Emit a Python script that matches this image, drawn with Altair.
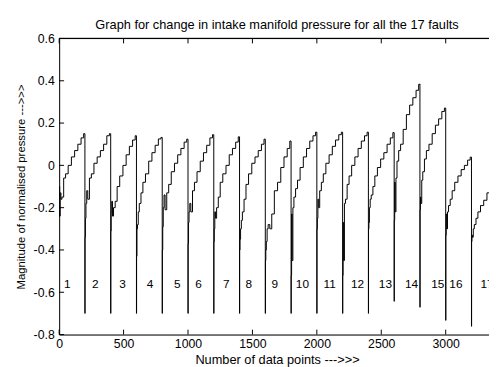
import altair as alt
import pandas as pd

# ---- data ----
SEG_LEN = 200
OFFSETS = [0, 1, 4, 8, 14, 22, 35, 50, 70, 95, 120, 145, 170, 190, 199]

seg1 = [-0.24, -0.10, -0.24, -0.13, -0.16, -0.15, -0.06, -0.04, 0.00, 0.04, 0.07, 0.10, 0.13, 0.15, 0.15]
seg2 = [-0.70, -0.34, -0.25, -0.18, -0.12, -0.16, -0.06, -0.04, 0.01, 0.04, 0.07, 0.10, 0.14, 0.15, 0.15]
seg3 = [-0.70, -0.31, -0.22, -0.17, -0.24, -0.20, -0.17, -0.10, -0.05, 0.00, 0.05, 0.09, 0.12, 0.14, 0.14]
seg4 = [-0.70, -0.43, -0.30, -0.28, -0.22, -0.18, -0.13, -0.08, -0.04, 0.02, 0.06, 0.095, 0.125, 0.132, 0.132]
seg5 = [-0.70, -0.40, -0.29, -0.20, -0.14, -0.21, -0.13, -0.09, -0.03, 0.01, 0.05, 0.08, 0.11, 0.124, 0.124]
seg6 = [-0.70, -0.37, -0.27, -0.22, -0.18, -0.22, -0.12, -0.08, -0.03, 0.02, 0.06, 0.095, 0.13, 0.145, 0.145]
seg7 = [-0.70, -0.36, -0.30, -0.22, -0.25, -0.20, -0.15, -0.08, -0.04, 0.00, 0.05, 0.08, 0.11, 0.135, 0.135]
seg8 = [-0.70, -0.40, -0.35, -0.30, -0.26, -0.22, -0.16, -0.09, -0.04, 0.01, 0.04, 0.07, 0.10, 0.124, 0.124]
seg9 = [-0.70, -0.45, -0.40, -0.36, -0.30, -0.28, -0.30, -0.23, -0.12, -0.08, -0.01, 0.04, 0.08, 0.115, 0.115]
seg10 = [-0.70, -0.52, -0.23, -0.45, -0.20, -0.15, -0.11, -0.07, -0.01, 0.04, 0.08, 0.115, 0.14, 0.157, 0.157]
seg11 = [-0.70, -0.30, -0.25, -0.16, -0.20, -0.12, -0.08, -0.04, 0.01, 0.05, 0.09, 0.12, 0.145, 0.157, 0.157]
seg12 = [-0.70, -0.52, -0.27, -0.45, -0.18, -0.16, -0.09, -0.05, 0.00, 0.04, 0.08, 0.115, 0.14, 0.157, 0.157]
seg13 = [-0.70, -0.30, -0.27, -0.20, -0.16, -0.14, -0.10, -0.05, -0.01, 0.03, 0.06, 0.10, 0.13, 0.155, 0.155]
seg14 = [-0.643, -0.26, -0.08, -0.22, -0.06, 0.02, 0.07, 0.10, 0.17, 0.24, 0.285, 0.32, 0.355, 0.383, 0.385]
seg15 = [-0.671, -0.21, -0.15, -0.18, -0.07, -0.03, 0.03, 0.07, 0.10, 0.15, 0.19, 0.22, 0.255, 0.271, 0.271]
seg16 = [-0.733, -0.33, -0.23, -0.30, -0.22, -0.19, -0.16, -0.12, -0.08, -0.05, -0.02, 0.00, 0.025, 0.039, 0.039]
seg17 = [-0.761, -0.36, -0.33, -0.34, -0.30, -0.28, -0.25, -0.22, -0.19, -0.165, -0.13, -0.10, -0.07, -0.05, -0.04]

fault_labels = [str(i) for i in range(1, 18)]
label_x = [64, 280, 491, 705, 916, 1082, 1298, 1471, 1674, 1888, 2099, 2315, 2532, 2735, 2939, 3079, 3321]
label_y = -0.56

x_ticks = [0, 500, 1000, 1500, 2000, 2500, 3000]
y_ticks = [-0.8, -0.6, -0.4, -0.2, 0, 0.2, 0.4, 0.6]

title_text = "Graph for change in intake manifold pressure for all the 17 faults"
x_title = "Number of data points --->>>"
y_title = "Magnitude of normalised pressure --->>>"

# ---- build tables ----
segments = [seg1, seg2, seg3, seg4, seg5, seg6, seg7, seg8, seg9, seg10,
            seg11, seg12, seg13, seg14, seg15, seg16, seg17]
rows = []
for i, vals in enumerate(segments):
    for off, v in zip(OFFSETS, vals):
        rows.append({"x": i * SEG_LEN + off, "y": v})
signal = pd.DataFrame(rows)
labels = pd.DataFrame({"x": label_x, "y": [label_y] * len(label_x), "t": fault_labels})
xt = pd.DataFrame({"x": x_ticks})
yt = pd.DataFrame({"y": y_ticks})

W, H = 437, 301
FONT = "Liberation Sans"

xscale = alt.Scale(domain=[0, 3336], nice=False, zero=False)
yscale = alt.Scale(domain=[-0.8, 0.6], nice=False, zero=False)
xaxis = alt.Axis(values=x_ticks, format="d", tickSize=0, grid=False, labelPadding=3,
                 title=x_title, titlePadding=4, titleX=W / 2 + 3, titleFontWeight="normal",
                 titleFontSize=13, labelFontSize=12.5, labelFont=FONT, titleFont=FONT,
                 domainColor="black", labelColor="black", titleColor="black",
                 labelFlush=False, labelOverlap=False)
yaxis = alt.Axis(values=y_ticks, labelExpr="'' + datum.value", tickSize=0, grid=False,
                 labelPadding=5, title=y_title, titlePadding=7, titleFontWeight="normal",
                 titleFontSize=11.5, labelFontSize=12.5, labelFont=FONT, titleFont=FONT,
                 domainColor="black", labelColor="black", titleColor="black",
                 labelFlush=False, labelOverlap=False)
X = alt.X("x:Q", scale=xscale, axis=xaxis)
Y = alt.Y("y:Q", scale=yscale, axis=yaxis)

line = alt.Chart(signal).mark_line(color="black", strokeWidth=1, clip=True,
                                   interpolate="step-after").encode(x=X, y=Y)

text = alt.Chart(labels).mark_text(font=FONT, fontSize=12, color="black", clip=True).encode(
    x=X, y=Y, text="t:N")

bottom_ticks = alt.Chart(xt).mark_rule(color="black", strokeWidth=1).encode(
    x=X, y=alt.value(H), y2=alt.value(H - 5))
top_ticks = alt.Chart(xt).mark_rule(color="black", strokeWidth=1).encode(
    x=X, y=alt.value(0), y2=alt.value(5))
left_ticks = alt.Chart(yt).mark_rule(color="black", strokeWidth=1).encode(
    y=Y, x=alt.value(0), x2=alt.value(5))
top_border = alt.Chart(xt).mark_rule(color="black", strokeWidth=1).encode(
    x=alt.value(0), x2=alt.value(W), y=alt.value(0))

chart = alt.layer(line, text, bottom_ticks, top_ticks, left_ticks, top_border).properties(
    width=W, height=H,
    title=alt.TitleParams(title_text, fontSize=13, fontWeight="normal", font=FONT,
                          color="black", anchor="middle", frame="group", offset=1, dx=3),
    autosize=alt.AutoSizeParams(type="none"),
    padding={"left": 52, "top": 28, "right": 0, "bottom": 30},
).configure_view(stroke=None).configure(background="white")

chart.save("out.html", embed_options={"renderer": "svg", "actions": False})
